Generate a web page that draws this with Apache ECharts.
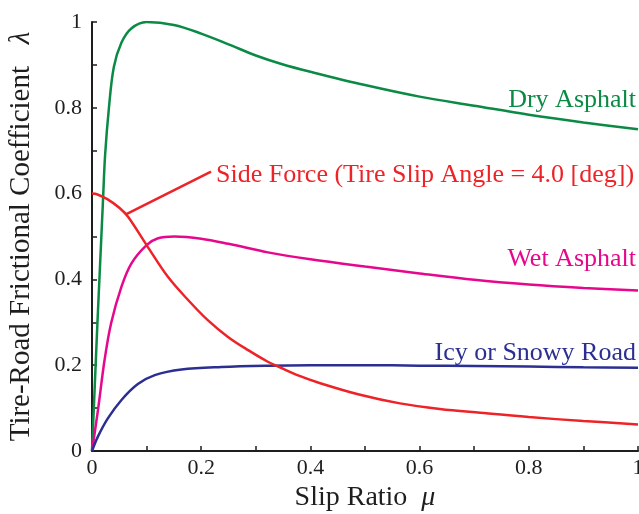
<!DOCTYPE html>
<html>
<head>
<meta charset="utf-8">
<title>Tire-Road Friction vs Slip Ratio</title>
<script src="https://cdn.jsdelivr.net/npm/echarts@6.0.0/dist/echarts.min.js"></script>
<style>
  html, body { margin: 0; padding: 0; background: #ffffff; }
  #chart { width: 639px; height: 514px; }
</style>
</head>
<body>
<div id="chart"></div>
<script>
// Friction coefficient curves, [slip ratio, coefficient]
const dryAsphalt = [
  [0, 0], [0.005, 0.15], [0.01, 0.3], [0.015, 0.44], [0.02, 0.58], [0.024, 0.69],
  [0.031, 0.8], [0.04, 0.895], [0.054, 0.952], [0.072, 0.985], [0.1, 1.0],
  [0.15, 0.993], [0.2, 0.973], [0.25, 0.948], [0.3, 0.922], [0.35, 0.901],
  [0.4, 0.884], [0.5, 0.853], [0.6, 0.826], [0.7, 0.805], [0.8, 0.784],
  [0.9, 0.766], [1.0, 0.75]
];
const wetAsphalt = [
  [0, 0], [0.011, 0.096], [0.023, 0.212], [0.035, 0.298], [0.054, 0.383],
  [0.072, 0.437], [0.1, 0.48], [0.121, 0.496], [0.151, 0.5], [0.2, 0.495],
  [0.25, 0.483], [0.322, 0.463], [0.4, 0.447], [0.5, 0.43], [0.6, 0.414],
  [0.7, 0.399], [0.8, 0.388], [0.9, 0.38], [1.0, 0.374]
];
const icyRoad = [
  [0, 0], [0.011, 0.034], [0.029, 0.076], [0.054, 0.119], [0.084, 0.156],
  [0.115, 0.177], [0.164, 0.19], [0.237, 0.196], [0.322, 0.199], [0.4, 0.2],
  [0.5, 0.2], [0.6, 0.199], [0.7, 0.198], [0.8, 0.197], [0.9, 0.195], [1.0, 0.194]
];
const sideForce = [
  [0, 0.6], [0.01, 0.598], [0.028, 0.587], [0.05, 0.567], [0.066, 0.546],
  [0.1, 0.48], [0.139, 0.406], [0.176, 0.352], [0.212, 0.305], [0.249, 0.266],
  [0.286, 0.235], [0.322, 0.208], [0.341, 0.197], [0.38, 0.175], [0.418, 0.158],
  [0.491, 0.131], [0.564, 0.111], [0.637, 0.098], [0.711, 0.089], [0.8, 0.079],
  [0.9, 0.07], [1.0, 0.062]
];
// Leader line from the side-force curve to its caption
const sideForceLeader = [[0.063, 0.552], [0.218, 0.651]];

const curveLabels = {
  dry: 'Dry Asphalt',
  wet: 'Wet Asphalt',
  icy: 'Icy or Snowy Road',
  side: 'Side Force (Tire Slip Angle = 4.0 [deg])'
};
const xTitle = 'Slip Ratio';
const yTitle = 'Tire-Road Frictional Coefficient';

const FONT = '"Liberation Serif", "DejaVu Serif", serif';
const C_DRY = '#0b8a45', C_WET = '#e6088c', C_ICY = '#2b2f92', C_SIDE = '#ee2328';
const INK = '#1e1e1e';

function tickFmt(v) {
  const k = Math.round(v * 10);
  if (k % 2) return '';
  if (k === 0) return '0';
  if (k === 10) return '1';
  return (k / 10).toFixed(1);
}

const axisCommon = {
  type: 'value', min: 0, max: 1, interval: 0.1,
  axisLine: { show: true, onZero: false, lineStyle: { color: INK, width: 2 } },
  axisTick: { show: true, inside: true, length: 5, lineStyle: { color: INK, width: 1.5 } },
  splitLine: { show: false },
  axisLabel: { formatter: tickFmt, color: INK, fontFamily: FONT, fontSize: 22 },
  nameLocation: 'middle'
};

function titleStyle(size) {
  return {
    color: INK, fontFamily: FONT, fontSize: size,
    rich: { i: { fontStyle: 'italic', fontFamily: FONT, fontSize: size, color: INK } }
  };
}

function curve(data, color) {
  return {
    type: 'line', data: data, symbol: 'none', smooth: 0.35,
    lineStyle: { color: color, width: 2.5 }, silent: true, z: 3
  };
}

function caption(text, color, x, y, align) {
  return {
    type: 'text', x: x, y: y,
    style: { text: text, fill: color, font: '26px ' + FONT, align: align, verticalAlign: 'middle' }
  };
}

const chart = echarts.init(document.getElementById('chart'), null, { renderer: 'canvas' });
chart.setOption({
  animation: false,
  backgroundColor: '#ffffff',
  grid: { left: 92, right: 1, top: 22, bottom: 63, outerBoundsMode: 'none', containLabel: false },
  xAxis: Object.assign({}, axisCommon, {
    name: xTitle + '  {i|μ}', nameGap: 31,
    axisLabel: Object.assign({}, axisCommon.axisLabel, { margin: 6 }),
    nameTextStyle: titleStyle(28)
  }),
  yAxis: Object.assign({}, axisCommon, {
    name: yTitle + '   {i|λ}', nameGap: 56,
    axisLabel: Object.assign({}, axisCommon.axisLabel, { margin: 10 }),
    nameTextStyle: titleStyle(29)
  }),
  series: [
    curve(dryAsphalt, C_DRY),
    curve(wetAsphalt, C_WET),
    curve(icyRoad, C_ICY),
    curve(sideForce, C_SIDE),
    {
      type: 'line', data: sideForceLeader, symbol: 'none', silent: true,
      lineStyle: { color: C_SIDE, width: 2.5 }, z: 3
    }
  ],
  graphic: [
    caption(curveLabels.dry, C_DRY, 636, 100, 'right'),
    caption(curveLabels.side, C_SIDE, 216, 175, 'left'),
    caption(curveLabels.wet, C_WET, 636, 259, 'right'),
    caption(curveLabels.icy, C_ICY, 636, 353, 'right')
  ]
});
</script>
</body>
</html>
